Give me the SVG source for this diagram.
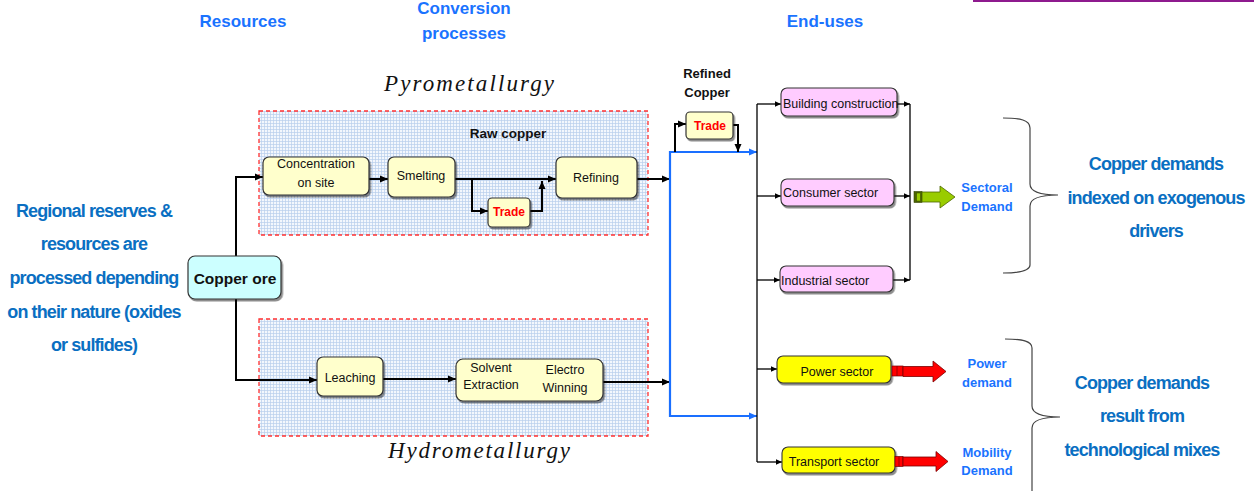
<svg xmlns="http://www.w3.org/2000/svg" width="1254" height="491" viewBox="0 0 1254 491">
  <defs>
    <pattern id="grid" width="3" height="3" patternUnits="userSpaceOnUse">
      <rect width="3" height="3" fill="#f3f7fd"/>
      <path d="M0 0.5H3M0.5 0V3" stroke="#b9cfec" stroke-width="0.7"/>
    </pattern>
    <marker id="ah" markerUnits="userSpaceOnUse" markerWidth="9" markerHeight="8" refX="8" refY="4" orient="auto">
      <path d="M0,0.5 L8,4 L0,7.5 Z" fill="#000"/>
    </marker>
    <marker id="ahs" markerUnits="userSpaceOnUse" markerWidth="7" markerHeight="7" refX="6" refY="3" orient="auto">
      <path d="M0,0.3 L6,3 L0,5.7 Z" fill="#000"/>
    </marker>
    <marker id="ahb" markerUnits="userSpaceOnUse" markerWidth="9" markerHeight="8" refX="8" refY="4" orient="auto">
      <path d="M0,0.5 L8,4 L0,7.5 Z" fill="#1a6fff"/>
    </marker>
    <filter id="sh" x="-10%" y="-15%" width="125%" height="150%">
      <feDropShadow dx="1.5" dy="2" stdDeviation="0.7" flood-color="#000" flood-opacity="0.45"/>
    </filter>
  </defs>
  <style>
    .hdr { font-family: "Liberation Sans", Arial, sans-serif; font-weight: bold; font-size: 17px; fill: #1a73ff; text-anchor: middle; }
    .note { font-family: "Liberation Sans", Arial, sans-serif; font-weight: bold; font-size: 18px; letter-spacing: -0.9px; fill: #0a6fc2; text-anchor: middle; }
    .lbl { font-family: "Liberation Sans", Arial, sans-serif; font-weight: bold; font-size: 13px; fill: #1a73ff; text-anchor: middle; }
    .proc { font-family: "Liberation Serif", "Times New Roman", serif; font-style: italic; font-size: 23px; fill: #111; }
    .region { fill: url(#grid); stroke: #ff3030; stroke-width: 1.3; stroke-dasharray: 4 3; }
    .box { fill: #ffffcc; stroke: #333; stroke-width: 1.2; filter: url(#sh); }
    .pink { fill: #ffccff; stroke: #333; stroke-width: 1.1; filter: url(#sh); }
    .yel { fill: #ffff00; stroke: #333; stroke-width: 1.1; filter: url(#sh); }
    .ore { fill: #ccffff; stroke: #333; stroke-width: 1.2; filter: url(#sh); }
    .t { font-family: "Liberation Sans", Arial, sans-serif; font-size: 12.5px; fill: #111; }
    .tc { text-anchor: middle; }
    .bt { font-family: "Liberation Sans", Arial, sans-serif; font-weight: bold; fill: #111; text-anchor: middle; }
    .trade { font-family: "Liberation Sans", Arial, sans-serif; font-weight: bold; font-size: 12px; fill: #ff0000; text-anchor: middle; }
    .w { fill: none; stroke: #000; stroke-width: 2; }
    .wt { fill: none; stroke: #000; stroke-width: 1.3; }
    .wb { fill: none; stroke: #1a6fff; stroke-width: 2.2; }
    .brace { fill: none; stroke: #444; stroke-width: 1.2; }
    .redarr { fill: #ff0000; stroke: #7a0000; stroke-width: 0.8; }
    .grnarr { fill: #99cc00; stroke: #4d6600; stroke-width: 0.8; }
  </style>

  <!-- top-right rule -->
  <line x1="973" y1="1" x2="1254" y2="1" stroke="#8e1a8e" stroke-width="2"/>

  <!-- column headings -->
  <g id="headings">
    <text class="hdr" x="243" y="27">Resources</text>
    <text class="hdr" x="464" y="14">Conversion</text>
    <text class="hdr" x="464" y="39">processes</text>
    <text class="hdr" x="825" y="27">End-uses</text>
  </g>

  <!-- explanatory notes -->
  <g id="note-resources">
    <text class="note" x="94" y="217">Regional reserves &amp;</text>
    <text class="note" x="94" y="250">resources are</text>
    <text class="note" x="94" y="284">processed depending</text>
    <text class="note" x="94" y="318">on their nature (oxides</text>
    <text class="note" x="94" y="351">or sulfides)</text>
  </g>
  <g id="note-sectoral">
    <text class="note" x="1156" y="170">Copper demands</text>
    <text class="note" x="1156" y="204">indexed on exogenous</text>
    <text class="note" x="1156" y="237">drivers</text>
  </g>
  <g id="note-tech">
    <text class="note" x="1142" y="389">Copper demands</text>
    <text class="note" x="1142" y="422">result from</text>
    <text class="note" x="1142" y="456">technological mixes</text>
  </g>

  <!-- process regions -->
  <g id="pyrometallurgy">
    <rect class="region" x="259" y="111" width="389" height="124"/>
    <text class="proc" x="384" y="91" textLength="170" lengthAdjust="spacing">Pyrometallurgy</text>
    <text class="bt" x="508" y="138" font-size="13.5">Raw copper</text>
  </g>
  <g id="hydrometallurgy">
    <rect class="region" x="259" y="319" width="389" height="117"/>
    <text class="proc" x="388" y="458" textLength="182" lengthAdjust="spacing">Hydrometallurgy</text>
  </g>

  <!-- connectors -->
  <g id="connectors">
    <!-- ore to both routes -->
    <path class="w" d="M236,256 V177 H263" marker-end="url(#ah)"/>
    <path class="w" d="M236,299 V380 H317" marker-end="url(#ah)"/>
    <!-- pyrometallurgy chain -->
    <path class="w" d="M369,179 H388" marker-end="url(#ah)"/>
    <path class="w" d="M455,179 H556" marker-end="url(#ah)"/>
    <path class="w" d="M472,179 V211 H488" marker-end="url(#ah)"/>
    <path class="w" d="M530,211 H542 V181" marker-end="url(#ah)"/>
    <path class="w" d="M637,179 H670" marker-end="url(#ah)"/>
    <!-- hydrometallurgy chain -->
    <path class="w" d="M383,379 H456" marker-end="url(#ah)"/>
    <path class="w" d="M603,382 H670" marker-end="url(#ah)"/>
    <!-- refined copper collector -->
    <path class="wb" d="M757,152 H670 V416 H757"/>
    <path class="wb" d="M700,152 H757" marker-end="url(#ahb)"/>
    <path class="wb" d="M700,416 H757" marker-end="url(#ahb)"/>
    <!-- refined copper trade loop -->
    <path class="w" d="M675,152 V124 H686" marker-end="url(#ah)"/>
    <path class="w" d="M733,125 H738 V152" marker-end="url(#ah)"/>
    <!-- end-use distribution bus -->
    <path class="wt" d="M757,104 V462"/>
    <path class="wt" d="M757,104 H781" marker-end="url(#ahs)"/>
    <path class="wt" d="M757,196 H781" marker-end="url(#ahs)"/>
    <path class="wt" d="M757,280 H780" marker-end="url(#ahs)"/>
    <path class="wt" d="M757,369 H777" marker-end="url(#ahs)"/>
    <path class="wt" d="M757,462 H782" marker-end="url(#ahs)"/>
    <!-- sectoral collector -->
    <path class="wt" d="M910,104 V280"/>
    <path class="wt" d="M897,104 H910" marker-end="url(#ahs)"/>
    <path class="wt" d="M894,196 H910" marker-end="url(#ahs)"/>
    <path class="wt" d="M893,280 H910" marker-end="url(#ahs)"/>
  </g>

  <!-- nodes -->
  <g id="copper-ore">
    <rect class="ore" x="188" y="256" width="93" height="43" rx="7"/>
    <text class="bt" x="235" y="284" font-size="15.5">Copper ore</text>
  </g>
  <g id="concentration">
    <rect class="box" x="263" y="157" width="106" height="38" rx="6"/>
    <text class="t tc" x="316" y="168">Concentration</text>
    <text class="t tc" x="316" y="187">on site</text>
  </g>
  <g id="smelting">
    <rect class="box" x="388" y="157" width="67" height="40" rx="6"/>
    <text class="t tc" x="421" y="180">Smelting</text>
  </g>
  <g id="trade-raw">
    <rect class="box" x="488" y="198" width="42" height="29" rx="4"/>
    <text class="trade" x="509" y="216">Trade</text>
  </g>
  <g id="refining">
    <rect class="box" x="556" y="157" width="81" height="41" rx="6"/>
    <text class="t tc" x="596" y="182">Refining</text>
  </g>
  <g id="leaching">
    <rect class="box" x="317" y="357" width="66" height="39" rx="6"/>
    <text class="t tc" x="350" y="382">Leaching</text>
  </g>
  <g id="sx-ew">
    <rect class="box" x="456" y="359" width="147" height="42" rx="7"/>
    <text class="t tc" x="491" y="372">Solvent</text>
    <text class="t tc" x="491" y="389">Extraction</text>
    <text class="t tc" x="565" y="374">Electro</text>
    <text class="t tc" x="565" y="392">Winning</text>
  </g>
  <g id="trade-refined">
    <text class="bt" x="707" y="78" font-size="13">Refined</text>
    <text class="bt" x="707" y="97" font-size="13">Copper</text>
    <rect class="box" x="686" y="112" width="47" height="27" rx="4"/>
    <text class="trade" x="710" y="130">Trade</text>
  </g>
  <g id="building">
    <rect class="pink" x="781" y="88" width="116" height="28" rx="6"/>
    <text class="t" x="783" y="108">Building construction</text>
  </g>
  <g id="consumer">
    <rect class="pink" x="781" y="179" width="113" height="27" rx="6"/>
    <text class="t" x="783" y="197">Consumer sector</text>
  </g>
  <g id="industrial">
    <rect class="pink" x="780" y="266" width="113" height="26" rx="6"/>
    <text class="t" x="781" y="285">Industrial sector</text>
  </g>
  <g id="power">
    <rect class="yel" x="777" y="356" width="114" height="27" rx="6"/>
    <text class="t tc" x="837" y="376">Power sector</text>
  </g>
  <g id="transport">
    <rect class="yel" x="782" y="447" width="113" height="26" rx="6"/>
    <text class="t tc" x="834" y="466">Transport sector</text>
  </g>

  <!-- demand arrows and labels -->
  <g id="sectoral-demand">
    <rect x="914" y="191.5" width="8" height="11" fill="#4d6600" stroke="#334400" stroke-width="0.6"/>
    <rect x="916.5" y="193" width="4" height="8" fill="#99cc00" stroke="#334400" stroke-width="0.5"/>
    <path class="grnarr" d="M922,192 H940 V186 L955,197 L940,208 V202 H922 Z"/>
    <text class="lbl" x="987" y="192">Sectoral</text>
    <text class="lbl" x="987" y="211">Demand</text>
  </g>
  <g id="power-demand">
    <rect x="892" y="366" width="11" height="10" fill="#ff0000" stroke="#7a0000" stroke-width="0.7"/>
    <line x1="897" y1="366" x2="897" y2="376" stroke="#7a0000" stroke-width="0.7"/>
    <path class="redarr" d="M903,366.5 H933 V361 L946,371.5 L933,382 V376.5 H903 Z"/>
    <text class="lbl" x="987" y="368">Power</text>
    <text class="lbl" x="987" y="387">demand</text>
  </g>
  <g id="mobility-demand">
    <rect x="895" y="456.5" width="8" height="10" fill="#ff0000" stroke="#7a0000" stroke-width="0.7"/>
    <line x1="899" y1="456.5" x2="899" y2="466.5" stroke="#7a0000" stroke-width="0.7"/>
    <path class="redarr" d="M903,457 H936 V451.5 L948,461.5 L936,471.5 V466 H903 Z"/>
    <text class="lbl" x="987" y="457">Mobility</text>
    <text class="lbl" x="987" y="475">Demand</text>
  </g>

  <!-- grouping braces -->
  <path class="brace" d="M1003,118 C1020,118 1030,120 1030,128 V184 C1030,192 1040,195 1058,195 C1040,195 1030,198 1030,206 V265 C1030,271 1020,273 1003,273"/>
  <path class="brace" d="M1005,339 C1022,339 1032,341 1032,348 V406 C1032,414 1042,417 1060,417 C1042,417 1032,420 1032,428 V495"/>
</svg>
